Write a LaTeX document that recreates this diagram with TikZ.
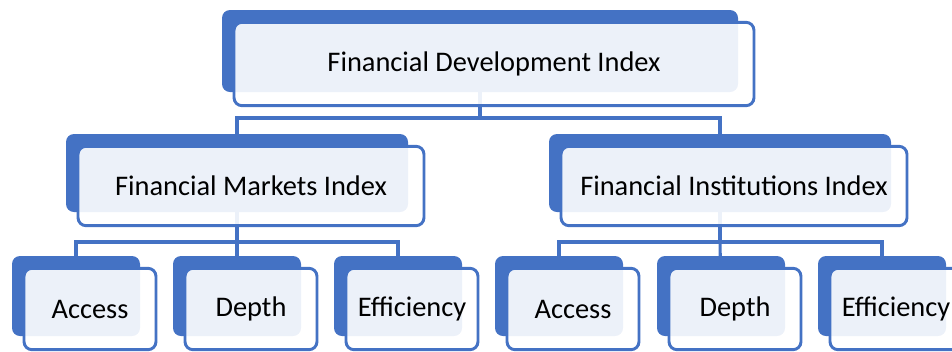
\documentclass[tikz,border=0pt]{standalone}
\usepackage{fontspec}
\setmainfont{Carlito}
\definecolor{acc}{HTML}{4472C4}
\newcommand\pairbox[5]{%
  \node[back, minimum width=#3*0.75pt, minimum height=#4*0.75pt] (#1b) at (#2) {};
  \node[front, minimum width=#3*0.75pt+3pt, minimum height=#4*0.75pt+1pt] (#1) at ([shift={(14,13)}]#1b.center) {#5};}
\begin{document}
\begin{tikzpicture}[x=0.75pt,y=-0.75pt,
  back/.style={draw=none, fill=acc, rounded corners=6pt, inner sep=0pt, outer sep=0pt},
  front/.style={draw=acc, line width=2.2pt, fill=white, fill opacity=0.9, text opacity=1,
    rounded corners=6pt, inner sep=0pt, outer sep=0pt, font=\fontsize{21.3}{24}\selectfont},
  conn/.style={draw=acc, line width=2.3pt}]
\useasboundingbox (0,0) rectangle (952,351);
% back-box centres
\coordinate (pt) at (480,51);
\coordinate (pl) at (237,173);
\coordinate (pr) at (720,173);
\coordinate (p1) at (76,296);
\coordinate (p2) at (237,296);
\coordinate (p3) at (398,296);
\coordinate (p4) at (559,296);
\coordinate (p5) at (721,296);
\coordinate (p6) at (882,296);
\coordinate (j0) at (480,118);
\coordinate (jl) at (237,242);
\coordinate (jr) at (720,242);
% connectors
\draw[conn] (pt) -- (j0);
\draw[conn] (pl) |- (j0) -| (pr);
\draw[conn] (pl) -- (jl);
\draw[conn] (p1) |- (jl) -| (p3);
\draw[conn] (jl) -- (p2);
\draw[conn] (pr) -- (jr);
\draw[conn] (p4) |- (jr) -| (p6);
\draw[conn] (jr) -- (p5);
% boxes
\pairbox{top}{pt}{516}{82}{Financial Development Index}
\pairbox{fmi}{pl}{342}{78}{Financial Markets Index}
\pairbox{fii}{pr}{342}{78}{Financial Institutions Index}
\pairbox{a1}{p1}{128}{80}{Access}
\pairbox{d1}{p2}{128}{80}{Depth}
\pairbox{e1}{p3}{128}{80}{Efficiency}
\pairbox{a2}{p4}{128}{80}{Access}
\pairbox{d2}{p5}{128}{80}{Depth}
\pairbox{e2}{p6}{128}{80}{Efficiency}
\end{tikzpicture}
\end{document}
